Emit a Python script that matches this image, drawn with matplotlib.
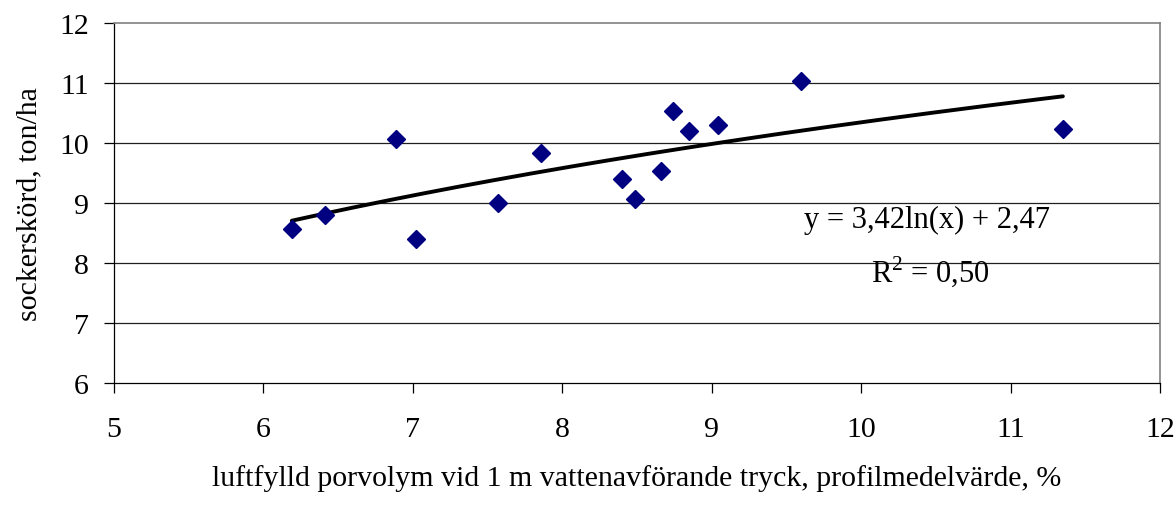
import numpy as np
import matplotlib
matplotlib.use("Agg")
from matplotlib import pyplot as plt

# =============================================================================
# data
# =============================================================================
luftfylld = [6.19, 6.41, 6.89, 7.02, 7.57, 7.86, 8.40, 8.49, 8.66, 8.74,
             8.85, 9.04, 9.60, 11.35]
sockerskord = [8.57, 8.80, 10.07, 8.40, 9.00, 9.83, 9.40, 9.07, 9.53, 10.53,
               10.20, 10.30, 11.04, 10.23]

# logarithmic trendline as printed on the chart
trend_a = 3.42
trend_b = 2.47
eq_text = "y = 3,42ln(x) + 2,47"
r2_text = "R$^2$ = 0,50"

x_ticks = [5, 6, 7, 8, 9, 10, 11, 12]
y_ticks = [6, 7, 8, 9, 10, 11, 12]

plt.rcParams["font.family"] = ["Liberation Serif", "DejaVu Serif"]
plt.rcParams["mathtext.fontset"] = "custom"
plt.rcParams["mathtext.rm"] = "Liberation Serif"

fig = plt.figure(figsize=(11.76, 5.06), dpi=100)
ax = fig.add_axes([0.0969, 0.2411, 0.8895, 0.7115])

# gridlines
for yy in y_ticks[1:-1]:
    ax.axhline(yy, color="#202020", lw=0.9, zorder=1)

# trendline
xt = np.linspace(min(luftfylld), max(luftfylld), 200)
ax.plot(xt, trend_a * np.log(xt) + trend_b, color="black", lw=2.8,
        solid_capstyle="round", zorder=2)

# points
ax.plot(luftfylld, sockerskord, linestyle="none", marker="D", markersize=9.5,
        color="#000080", zorder=3)

ax.text(10.44, 8.72, eq_text, fontsize=22, ha="center", va="center")
ax.text(10.46, 7.88, r2_text, fontsize=22, ha="center", va="center")

ax.set_xlim(5, 12)
ax.set_ylim(6, 12)
ax.set_xticks(x_ticks)
ax.set_yticks(y_ticks)
ax.tick_params(axis="both", direction="out", length=7.2, width=0.9,
               labelsize=21.5, color="black")
ax.tick_params(axis="x", pad=16.5)
ax.tick_params(axis="y", pad=11)

for side in ["top", "right"]:
    ax.spines[side].set_color("#808080")
    ax.spines[side].set_linewidth(1.2)
for side in ["left", "bottom"]:
    ax.spines[side].set_color("black")
    ax.spines[side].set_linewidth(0.9)

ax.set_xlabel("luftfylld porvolym vid 1 m vattenavförande tryck, profilmedelvärde, %",
              fontsize=21.5, labelpad=16)
ax.set_ylabel("sockerskörd, ton/ha", fontsize=21.5, labelpad=12)

fig.savefig("out.png", dpi=100)
